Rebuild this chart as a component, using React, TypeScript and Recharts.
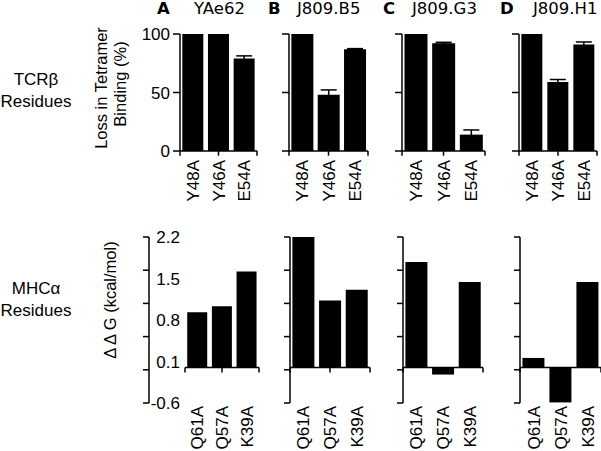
import React from 'react'
import { BarChart, Bar, XAxis, YAxis, ErrorBar, ReferenceLine } from 'recharts'

// residues mutated on each side
const tcrResidues = ['Y48A', 'Y46A', 'E54A']
const mhcResidues = ['Q61A', 'Q57A', 'K39A']

const panelLetters = ['A', 'B', 'C', 'D']
const clones = ['YAe62', 'J809.B5', 'J809.G3', 'J809.H1']

// loss in tetramer binding (%) + upper error
const lossYAe62 = [100, 100, 79]
const lossB5 = [100, 48, 87]
const lossG3 = [100, 92, 14]
const lossH1 = [100, 59, 91]
const errYAe62 = [0, 0, 2.3]
const errB5 = [0, 4.2, 0.5]
const errG3 = [0, 0.9, 4]
const errH1 = [0, 2.1, 2.2]

// ΔΔG (kcal/mol)
const ddgYAe62 = [0.93, 1.03, 1.62]
const ddgB5 = [2.2, 1.13, 1.31]
const ddgG3 = [1.78, -0.12, 1.44]
const ddgH1 = [0.16, -0.59, 1.44]

const lossTicks = [0, 50, 100]
const ddgTicks = [-0.6, 0.1, 0.8, 1.5, 2.2]
const ddgMarks = [-0.6, -0.04, 0.52, 1.08, 1.64, 2.2]
const edgeTicks = [0, 1, 2, 3]

const arial = '"Liberation Sans", Arial, sans-serif'
const verdana = '"DejaVu Sans", Verdana, sans-serif'

const topPlots = [
  { left: 180, width: 77 },
  { left: 289, width: 79 },
  { left: 402, width: 83 },
  { left: 519, width: 78 },
]
const bottomPlots = [
  { left: 185, width: 74 },
  { left: 290, width: 80 },
  { left: 403, width: 80 },
  { left: 520, width: 81 },
]

function ResidueTick(props: any) {
  const { x, y, payload, gap } = props
  const ty = y + gap
  return (
    <text
      x={x}
      y={ty}
      transform={`rotate(-90, ${x}, ${ty})`}
      textAnchor="end"
      dy="0.36em"
      fontSize={17}
      fontFamily={arial}
      fill="#000"
    >
      {payload.value}
    </text>
  )
}

function LossPanel({ values, errors, left, width, showLabels }: any) {
  const data = tcrResidues.map((name, i) => ({ name, loss: values[i], err: errors[i] }))
  const yw = showLabels ? 44 : 8
  return (
    <div style={{ position: 'absolute', left: left - yw, top: 22 }}>
      <BarChart
        width={yw + width + 4}
        height={184}
        data={data}
        margin={{ top: 12, right: 4, bottom: 0, left: 0 }}
        barCategoryGap="9%"
      >
        <XAxis
          xAxisId="cat"
          dataKey="name"
          axisLine={false}
          tickLine={false}
          tickSize={0}
          tickMargin={0}
          height={55}
          interval={0}
          tick={(p: any) => <ResidueTick {...p} gap={9} />}
        />
        <XAxis xAxisId="edge" type="number" domain={[0, 3]} allowDataOverflow hide />
        <YAxis
          yAxisId="v"
          domain={[0, 100]}
          ticks={lossTicks}
          interval={0}
          width={yw}
          tickSize={7}
          tickMargin={3}
          axisLine={{ stroke: '#000', strokeWidth: 1.5 }}
          tickLine={{ stroke: '#000', strokeWidth: 1.5 }}
          tick={{ fill: '#000', fontSize: 17, fontFamily: arial }}
          tickFormatter={(v: number) => (showLabels ? String(v) : '')}
        />
        <Bar xAxisId="cat" yAxisId="v" dataKey="loss" fill="#000" isAnimationActive={false}>
          <ErrorBar dataKey="err" direction="y" width={8} stroke="#000" strokeWidth={1.5} isAnimationActive={false} />
        </Bar>
        <ReferenceLine xAxisId="cat" yAxisId="v" y={0} stroke="#000" strokeWidth={1.5} />
        {edgeTicks.map((t) => (
          <ReferenceLine
            key={t}
            xAxisId="edge"
            yAxisId="v"
            segment={[{ x: t, y: 0 }, { x: t, y: -4 }]}
            stroke="#000"
            strokeWidth={1.5}
            ifOverflow="visible"
          />
        ))}
      </BarChart>
    </div>
  )
}

function DdgPanel({ values, left, width, showLabels }: any) {
  const data = mhcResidues.map((name, i) => ({ name, ddg: values[i] }))
  const lw = showLabels ? 36 : 0
  const yw = 8 + lw
  return (
    <div style={{ position: 'absolute', left: left - yw, top: 225 }}>
      <BarChart
        width={yw + width + 4}
        height={226}
        data={data}
        margin={{ top: 12, right: 4, bottom: 0, left: 0 }}
        barCategoryGap="9%"
      >
        <XAxis
          xAxisId="cat"
          dataKey="name"
          axisLine={false}
          tickLine={false}
          tickSize={0}
          tickMargin={0}
          height={48}
          interval={0}
          tick={(p: any) => <ResidueTick {...p} gap={3} />}
        />
        <XAxis xAxisId="edge" type="number" domain={[0, 3]} allowDataOverflow hide />
        <YAxis
          yAxisId="v"
          domain={[-0.6, 2.2]}
          allowDataOverflow
          ticks={ddgMarks}
          interval={0}
          width={8}
          tickSize={6}
          axisLine={{ stroke: '#000', strokeWidth: 1.5 }}
          tickLine={{ stroke: '#000', strokeWidth: 1.5 }}
          tickFormatter={() => ''}
        />
        {showLabels && (
          <YAxis
            yAxisId="lbl"
            domain={[-0.6, 2.2]}
            allowDataOverflow
            ticks={ddgTicks}
            interval={0}
            width={lw}
            tickSize={0}
            tickMargin={5}
            axisLine={false}
            tickLine={false}
            tick={{ fill: '#000', fontSize: 17, fontFamily: arial }}
          />
        )}
        <Bar xAxisId="cat" yAxisId="v" dataKey="ddg" fill="#000" isAnimationActive={false} />
        <ReferenceLine xAxisId="cat" yAxisId="v" y={0} stroke="#000" strokeWidth={1.5} />
        {edgeTicks.map((t) => (
          <ReferenceLine
            key={t}
            xAxisId="edge"
            yAxisId="v"
            segment={[{ x: t, y: 0 }, { x: t, y: -0.085 }]}
            stroke="#000"
            strokeWidth={1.5}
            ifOverflow="visible"
          />
        ))}
      </BarChart>
    </div>
  )
}

const titleX = [
  { letter: 157, clone: 194 },
  { letter: 268, clone: 297 },
  { letter: 383, clone: 412 },
  { letter: 500, clone: 533 },
]

export default function App() {
  const lossSets = [lossYAe62, lossB5, lossG3, lossH1]
  const errSets = [errYAe62, errB5, errG3, errH1]
  const ddgSets = [ddgYAe62, ddgB5, ddgG3, ddgH1]

  return (
    <div style={{ position: 'absolute', left: 0, top: 0, width: 601, height: 451, overflow: 'hidden', background: '#fff' }}>
      {/* panel headers, row names and axis titles */}
      <svg width={601} height={451} style={{ position: 'absolute', left: 0, top: 0 }}>
        {panelLetters.map((l, i) => (
          <g key={l}>
            <text x={titleX[i].letter} y={14} fontSize={16.5} fontWeight="bold" fontFamily={verdana} fill="#000">{l}</text>
            <text x={titleX[i].clone} y={14} fontSize={16.5} fontFamily={verdana} fill="#000">{clones[i]}</text>
          </g>
        ))}
        <text x={36} y={85} textAnchor="middle" fontSize={17} fontFamily={arial} fill="#000">TCRβ</text>
        <text x={36} y={107} textAnchor="middle" fontSize={17} fontFamily={arial} fill="#000">Residues</text>
        <text x={36} y={294} textAnchor="middle" fontSize={17} fontFamily={arial} fill="#000">MHCα</text>
        <text x={36} y={316} textAnchor="middle" fontSize={17} fontFamily={arial} fill="#000">Residues</text>
        <text transform="translate(107, 88) rotate(-90)" textAnchor="middle" fontSize={16.5} fontFamily={arial} fill="#000">Loss in Tetramer</text>
        <text transform="translate(126, 84) rotate(-90)" textAnchor="middle" fontSize={16.5} fontFamily={arial} fill="#000">Binding (%)</text>
        <text transform="translate(116, 300) rotate(-90)" textAnchor="middle" fontSize={16.5} fontFamily={arial} fill="#000">Δ Δ G (kcal/mol)</text>
      </svg>

      {topPlots.map((p, i) => (
        <LossPanel key={'t' + i} values={lossSets[i]} errors={errSets[i]} left={p.left} width={p.width} showLabels={i === 0} />
      ))}
      {bottomPlots.map((p, i) => (
        <DdgPanel key={'b' + i} values={ddgSets[i]} left={p.left} width={p.width} showLabels={i === 0} />
      ))}
    </div>
  )
}
